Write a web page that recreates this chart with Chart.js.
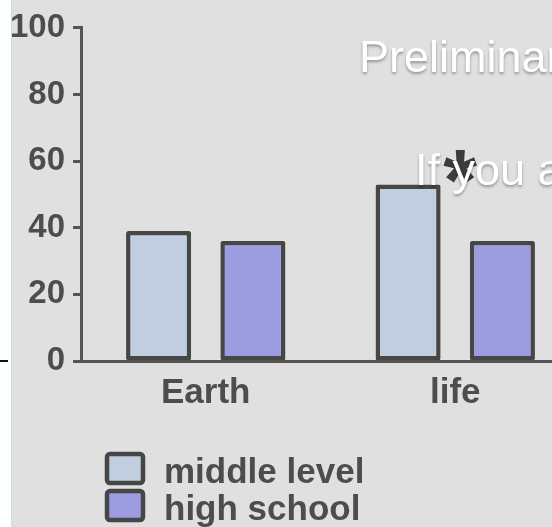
<!DOCTYPE html>
<html>
<head>
<meta charset="utf-8">
<script src="https://cdn.jsdelivr.net/npm/chart.js@4.4.1/dist/chart.umd.min.js"></script>
<style>
  html, body { margin: 0; padding: 0; }
  body { width: 552px; height: 527px; overflow: hidden; position: relative; background: #e0e0e0; }
  #wrap { position: absolute; left: 0; top: 0; width: 580px; height: 527px; }
  #strip { position: absolute; left: 0; top: 0; width: 11px; height: 527px; background: #ffffff; border-right: 1px solid #bfe2ea; }
  #mark { position: absolute; left: 0; top: 360px; width: 8px; height: 2px; background: #111; }
  .note { position: absolute; font-family: "Liberation Sans", Arial, sans-serif; font-size: 45px; line-height: 45px;
          color: #ffffff; white-space: nowrap; text-shadow: 0 2px 3px rgba(0,0,0,0.35); }
</style>
</head>
<body>
<div id="wrap"><canvas id="c" width="580" height="527"></canvas></div>
<div class="note" style="left:359px; top:34px;">Preliminary results</div>
<div class="note" style="left:415px; top:147px;">If you are</div>
<div id="strip"></div>
<div id="mark"></div>
<script>
// Subject areas and the two school levels
const categories = ['Earth', 'life'];
const seriesNames = ['middle level', 'high school'];
const middleLevel = [39, 53];
const highSchool = [36, 36];
const yTicks = [0, 20, 40, 60, 80, 100];

const FONT = '"Liberation Sans", Arial, sans-serif';
const INK = '#4d4d4d';
const EDGE = '#464646';

// asterisk over the "life" pair, plus a stacked legend under the axis
const extras = {
  id: 'extras',
  afterDatasetsDraw(chart) {
    const ctx = chart.ctx;
    const x = chart.scales.x.getPixelForValue(1) + 5;
    const y = chart.scales.y.getPixelForValue(58.5);
    ctx.save();
    ctx.fillStyle = '#3c3c3c';
    ctx.font = 'bold 100px ' + FONT;
    const m = ctx.measureText('*');
    const h = m.actualBoundingBoxAscent + m.actualBoundingBoxDescent;
    const size = 100 * 33 / h;
    ctx.font = 'bold ' + size.toFixed(1) + 'px ' + FONT;
    const m2 = ctx.measureText('*');
    const gx = x - (m2.actualBoundingBoxRight - m2.actualBoundingBoxLeft) / 2 + m2.actualBoundingBoxLeft;
    const gy = y + (m2.actualBoundingBoxAscent - m2.actualBoundingBoxDescent) / 2;
    ctx.textBaseline = 'alphabetic';
    ctx.fillText('*', gx, gy);
    ctx.restore();
  },
  afterDraw(chart) {
    const ctx = chart.ctx;
    ctx.save();
    chart.data.datasets.forEach((ds, i) => {
      const top = 452 + i * 37;
      ctx.fillStyle = ds.backgroundColor;
      ctx.strokeStyle = ds.borderColor;
      ctx.lineWidth = 4.5;
      ctx.beginPath();
      ctx.roundRect(107, top + 2, 36, 29, 3);
      ctx.fill();
      ctx.stroke();
      ctx.fillStyle = INK;
      ctx.font = 'bold 35px ' + FONT;
      ctx.textBaseline = 'alphabetic';
      ctx.textAlign = 'left';
      ctx.fillText(ds.label, 164, top + 31);
    });
    ctx.restore();
  }
};

new Chart(document.getElementById('c'), {
  type: 'bar',
  data: {
    labels: categories,
    datasets: [
      { label: seriesNames[0], data: middleLevel, backgroundColor: '#c1cedf', borderColor: EDGE,
        borderWidth: 4.5, borderSkipped: false, borderRadius: 2 },
      { label: seriesNames[1], data: highSchool, backgroundColor: '#9c9ce0', borderColor: EDGE,
        borderWidth: 4.5, borderSkipped: false, borderRadius: 2 }
    ]
  },
  options: {
    responsive: false,
    animation: false,
    devicePixelRatio: 1,
    layout: { padding: { top: 26, left: 0, right: 0, bottom: 0 } },
    categoryPercentage: 0.756,
    barPercentage: 0.69,
    plugins: { legend: { display: false }, tooltip: { enabled: false } },
    scales: {
      x: {
        grid: { display: false, drawTicks: false },
        border: { display: true, color: '#555555', width: 3 },
        ticks: { color: INK, padding: 11, font: { family: FONT, size: 35, weight: 'bold' } },
        afterFit(s) { s.height = 166; }
      },
      y: {
        min: 0, max: 100,
        afterBuildTicks(s) { s.ticks = yTicks.map(v => ({ value: v })); },
        grid: { drawOnChartArea: false, drawTicks: true, tickLength: 8, tickColor: '#555555', tickWidth: 3 },
        border: { display: true, color: '#555555', width: 3 },
        ticks: { color: INK, padding: 8, font: { family: FONT, size: 33, weight: 'bold' } },
        afterFit(s) { s.width = 81; }
      }
    }
  },
  plugins: [extras]
});
</script>
</body>
</html>
